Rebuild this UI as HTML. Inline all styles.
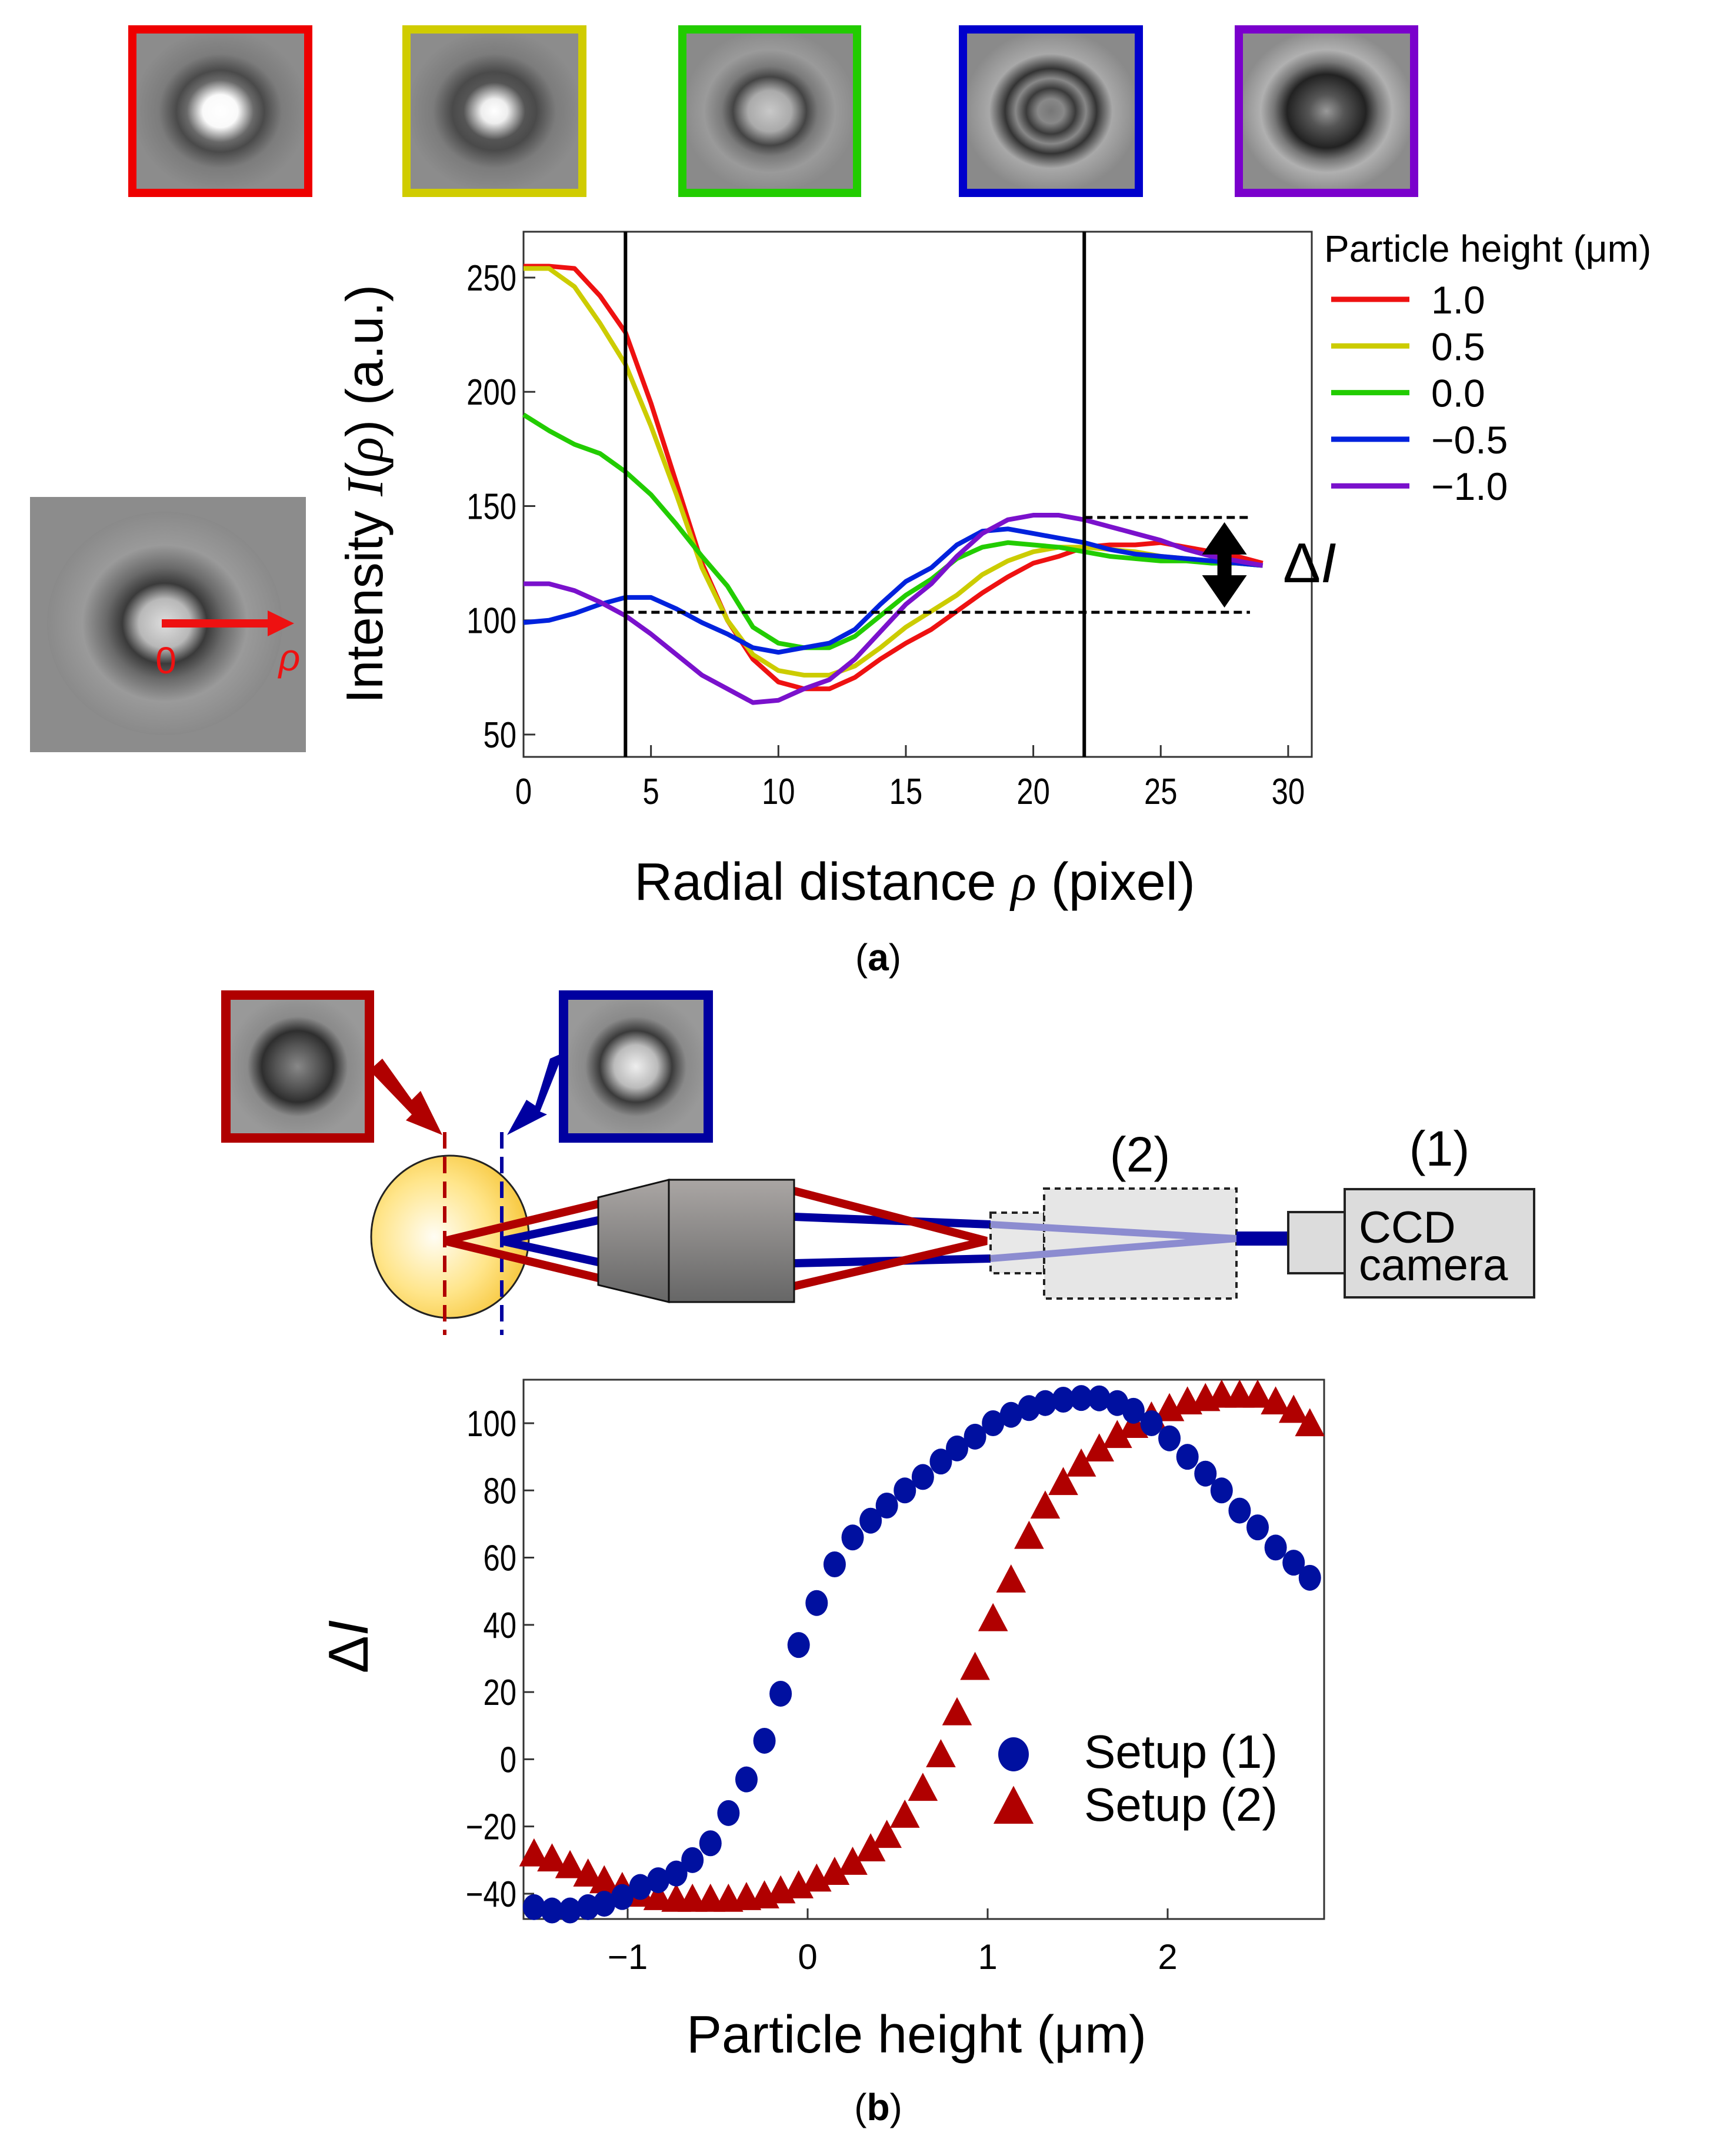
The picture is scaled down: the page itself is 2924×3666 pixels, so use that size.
<!DOCTYPE html>
<html><head><meta charset="utf-8"><style>
html,body{margin:0;padding:0;background:#fff;}
svg{display:block;}
text{font-family:"Liberation Sans",sans-serif;}
</style></head><body>
<svg id="fig" width="2924" height="3666" viewBox="0 0 2924 3666" xmlns="http://www.w3.org/2000/svg">
<defs>
<radialGradient id="gRed"><stop offset="0" stop-color="#fff"/><stop offset="0.2" stop-color="#fafafa"/><stop offset="0.38" stop-color="#6a6a6a"/><stop offset="0.5" stop-color="#4a4a4a"/><stop offset="0.7" stop-color="#7c7c7c"/><stop offset="1" stop-color="#8c8c8c"/></radialGradient>
<radialGradient id="gYel"><stop offset="0" stop-color="#fff"/><stop offset="0.15" stop-color="#eee"/><stop offset="0.35" stop-color="#555"/><stop offset="0.48" stop-color="#4a4a4a"/><stop offset="0.7" stop-color="#7c7c7c"/><stop offset="1" stop-color="#8c8c8c"/></radialGradient>
<radialGradient id="gGrn"><stop offset="0" stop-color="#c8c8c8"/><stop offset="0.25" stop-color="#aaa"/><stop offset="0.42" stop-color="#444"/><stop offset="0.55" stop-color="#7a7a7a"/><stop offset="0.75" stop-color="#9a9a9a"/><stop offset="1" stop-color="#8a8a8a"/></radialGradient>
<radialGradient id="gBlu"><stop offset="0" stop-color="#777"/><stop offset="0.15" stop-color="#888"/><stop offset="0.28" stop-color="#3a3a3a"/><stop offset="0.4" stop-color="#888"/><stop offset="0.52" stop-color="#333"/><stop offset="0.7" stop-color="#a8a8a8"/><stop offset="1" stop-color="#8a8a8a"/></radialGradient>
<radialGradient id="gPur"><stop offset="0" stop-color="#999"/><stop offset="0.2" stop-color="#555"/><stop offset="0.45" stop-color="#222"/><stop offset="0.6" stop-color="#777"/><stop offset="0.75" stop-color="#b0b0b0"/><stop offset="1" stop-color="#8c8c8c"/></radialGradient>
<radialGradient id="gBig"><stop offset="0" stop-color="#ddd"/><stop offset="0.22" stop-color="#b8b8b8"/><stop offset="0.36" stop-color="#3a3a3a"/><stop offset="0.5" stop-color="#6a6a6a"/><stop offset="0.7" stop-color="#9a9a9a"/><stop offset="1" stop-color="#8a8a8a"/></radialGradient>
<radialGradient id="gSmR"><stop offset="0" stop-color="#888"/><stop offset="0.3" stop-color="#555"/><stop offset="0.5" stop-color="#2e2e2e"/><stop offset="0.7" stop-color="#8a8a8a"/><stop offset="1" stop-color="#999"/></radialGradient>
<radialGradient id="gSmB"><stop offset="0" stop-color="#eee"/><stop offset="0.3" stop-color="#bbb"/><stop offset="0.5" stop-color="#3a3a3a"/><stop offset="0.7" stop-color="#8a8a8a"/><stop offset="1" stop-color="#999"/></radialGradient>
<radialGradient id="gBall" cx="0.4" cy="0.5" r="0.6"><stop offset="0" stop-color="#fffdf4"/><stop offset="0.6" stop-color="#ffe58a"/><stop offset="1" stop-color="#f7c840"/></radialGradient>
<linearGradient id="gObj" x1="0" y1="0" x2="0" y2="1"><stop offset="0" stop-color="#aaa6a4"/><stop offset="1" stop-color="#666"/></linearGradient>
</defs>

<!-- thumbnails -->
<g>
<g><rect x="225" y="50" width="299" height="278" fill="url(#gRed)" stroke="#ee0000" stroke-width="14"/></g>
<g><rect x="691" y="50" width="299" height="278" fill="url(#gYel)" stroke="#d0cc00" stroke-width="14"/></g>
<g><rect x="1160" y="50" width="297" height="278" fill="url(#gGrn)" stroke="#22cc00" stroke-width="14"/></g>
<g><rect x="1637" y="50" width="299" height="278" fill="url(#gBlu)" stroke="#0000cc" stroke-width="14"/></g>
<g><rect x="2106" y="50" width="298" height="278" fill="url(#gPur)" stroke="#7a00cc" stroke-width="14"/></g>
</g>

<!-- left particle image -->
<g>
<rect x="51" y="845" width="469" height="434" fill="#8c8c8c"/>
<ellipse cx="280" cy="1060" rx="200" ry="190" fill="url(#gBig)"/>
<line x1="275" y1="1060" x2="470" y2="1060" stroke="#ee1111" stroke-width="14"/>
<polygon points="500,1060 455,1038 455,1082" fill="#ee1111"/>
<text x="282" y="1145" font-family="Liberation Serif,serif" font-size="64" fill="#ee1111" text-anchor="middle">0</text>
<text x="492" y="1140" font-family="Liberation Serif,serif" font-style="italic" font-size="64" fill="#ee1111" text-anchor="middle">ρ</text>
</g>

<g id="chartA"></g>
<g id="chartB"></g>

<text x="1493" y="1650" font-family="Liberation Serif,serif" font-size="64" text-anchor="middle">(<tspan font-weight="bold">a</tspan>)</text>
<text x="1493" y="3605" font-family="Liberation Serif,serif" font-size="64" text-anchor="middle">(<tspan font-weight="bold">b</tspan>)</text>

<!-- setup diagram -->
<g>
<g><rect x="384" y="1692" width="244" height="243" fill="url(#gSmR)" stroke="#b00000" stroke-width="16"/></g>
<g><rect x="958" y="1692" width="246" height="243" fill="url(#gSmB)" stroke="#0000a0" stroke-width="16"/></g>
<polygon points="628,1820 650,1800 700,1870 715,1855 752,1930 690,1905 700,1895" fill="#b00000"/>
<polygon points="958,1790 935,1800 910,1880 895,1870 862,1930 930,1895 918,1890" fill="#0000a0"/>
<ellipse cx="765" cy="2103" rx="134" ry="138" fill="url(#gBall)" stroke="#222" stroke-width="3"/>
<line x1="756" y1="1925" x2="756" y2="2270" stroke="#b00000" stroke-width="6" stroke-dasharray="28,14"/>
<line x1="853" y1="1925" x2="853" y2="2270" stroke="#0000a0" stroke-width="6" stroke-dasharray="28,14"/>
<g fill="none" stroke-width="14">
<polyline points="1017,2047 756,2110 1017,2173" stroke="#b00000"/>
<polyline points="1017,2075 853,2110 1017,2146" stroke="#0000a0"/>
<polyline points="1350,2069 1684,2082" stroke="#0000a0"/>
<polyline points="1350,2148 1684,2140" stroke="#0000a0"/>
<polyline points="1350,2025 1677,2110 1350,2187" stroke="#b00000"/>
</g>
<polygon points="1017,2036 1137,2006 1137,2214 1017,2185" fill="url(#gObj)" stroke="#111" stroke-width="3"/>
<rect x="1137" y="2006" width="213" height="208" fill="url(#gObj)" stroke="#111" stroke-width="3"/>
<rect x="1684" y="2062" width="91" height="103" fill="#e8e8e8" stroke="#222" stroke-width="4" stroke-dasharray="10,8"/>
<rect x="1775" y="2021" width="327" height="187" fill="#e6e6e6" stroke="#222" stroke-width="4" stroke-dasharray="10,8"/>
<g fill="none" stroke="#8c8cd0" stroke-width="12"><polyline points="1684,2082 2102,2106"/><polyline points="1684,2140 2102,2106"/></g>
<line x1="2102" y1="2106" x2="2190" y2="2106" stroke="#0000a0" stroke-width="24"/>
<rect x="2190" y="2061" width="96" height="104" fill="#dcdcdc" stroke="#222" stroke-width="4"/>
<rect x="2286" y="2022" width="322" height="184" fill="#dcdcdc" stroke="#222" stroke-width="4"/>
<text x="2310" y="2113" font-size="76">CCD</text>
<text x="2310" y="2177" font-size="76">camera</text>
<text x="1938" y="1992" font-size="84" text-anchor="middle">(2)</text>
<text x="2447" y="1982" font-size="84" text-anchor="middle">(1)</text>
</g>

<script>
// ---------- Chart A data ----------
const rho = [0,1,2,3,4,5,6,7,8,9,10,11,12,13,14,15,16,17,18,19,20,21,22,23,24,25,26,27,28,29];
const heightsA = ["1.0","0.5","0.0","\u22120.5","\u22121.0"];
const intRed = [255,255,254,242,226,195,160,125,100,83,73,70,70,75,83,90,96,104,112,119,125,128,132,133,133,134,132,130,128,125];
const intYellow = [254,254,246,230,212,185,155,123,100,85,78,76,76,80,88,97,104,111,120,126,130,132,132,131,130,128,127,126,125,124];
const intGreen = [190,183,177,173,165,155,142,128,115,97,90,88,88,93,102,111,118,127,132,134,133,132,130,128,127,126,126,125,125,124];
const intBlue = [99,100,103,107,110,110,105,99,94,88,86,88,90,96,107,117,123,133,139,140,138,136,134,131,129,128,127,126,125,124];
const intPurple = [116,116,113,108,102,94,85,76,70,64,65,70,74,83,95,107,116,128,138,144,146,146,144,141,138,135,131,128,126,124];
const xTicksA = [0,5,10,15,20,25,30];
const yTicksA = [50,100,150,200,250];
const markersA = [4,22];
const dashLevelsA = [145,103.5];

// ---------- Chart B data ----------
const heightB = [-1.52,-1.42,-1.32,-1.22,-1.13,-1.03,-0.93,-0.83,-0.73,-0.64,-0.54,-0.44,-0.34,-0.24,-0.15,-0.05,0.05,0.15,0.25,0.35,0.44,0.54,0.64,0.74,0.83,0.93,1.03,1.13,1.23,1.32,1.42,1.52,1.62,1.72,1.81,1.91,2.01,2.11,2.21,2.30,2.40,2.50,2.60,2.70,2.79];
const dI1 = [-44,-45,-45,-44,-43,-41,-38,-36,-34,-30,-25,-16,-6,5.5,19.5,34,46.5,58,66,71,75.5,80,84,88.6,92.5,96,100,102.5,104.5,106,107,107.5,107.4,106,103.7,100,95.5,90,85,80,74,69,63,58.5,54];
const dI2 = [-28.5,-30,-32,-34.5,-36.5,-38.5,-40.5,-41.5,-42,-42,-42,-42,-41.5,-41,-39.5,-38,-36,-34,-31,-27,-23,-17,-9,1,13.5,27,41.5,53,66,75,82,87.5,92,96,99,101.5,104,106,107,108,108,108,106,103.5,99.5];
const xTicksB = [-1,0,1,2];
const yTicksB = [-40,-20,0,20,40,60,80,100];
const seriesNamesB = ["Setup (1)","Setup (2)"];

const NS = "http://www.w3.org/2000/svg";
function mk(parent, tag, attrs, txt){
  const e = document.createElementNS(NS, tag);
  for (const k in attrs) e.setAttribute(k, attrs[k]);
  if (txt !== undefined) e.textContent = txt;
  parent.appendChild(e);
  return e;
}

// ---------- Chart A ----------
(function(){
  const g = document.getElementById('chartA');
  const L=890,R=2230,T=394,B=1287;
  const xA = v => 890 + v*43.33;
  const yA = v => 472 + (250 - v)*3.885;
  const frame = mk(g,'rect',{x:L,y:T,width:R-L,height:B-T,fill:'none',stroke:'#333','stroke-width':3});
  
  
  xTicksA.forEach(t=>{
    mk(g,'line',{x1:xA(t),x2:xA(t),y1:B,y2:B-20,stroke:'#333','stroke-width':3});
    const tl = mk(g,'text',{x:xA(t),y:B+80,'font-size':62,'text-anchor':'middle',transform:`translate(${xA(t)},0) scale(0.82,1) translate(${-xA(t)},0)`},String(t));
    
    
  });
  yTicksA.forEach(t=>{
    mk(g,'line',{x1:L,x2:L+20,y1:yA(t),y2:yA(t),stroke:'#333','stroke-width':3});
    const tl = mk(g,'text',{x:L-12,y:yA(t)+22,'font-size':62,'text-anchor':'end',transform:`translate(${L-12},0) scale(0.82,1) translate(${-(L-12)},0)`},String(t));
    
    
  });
  const series = [[intRed,'#ee1111'],[intYellow,'#cccc00'],[intGreen,'#22cc00'],[intBlue,'#0022dd'],[intPurple,'#7a11cc']];
  series.forEach((s,i)=>{
    const pts = rho.map((r,j)=>xA(r)+','+yA(s[0][j])).join(' ');
    const pl = mk(g,'polyline',{points:pts,fill:'none',stroke:s[1],'stroke-width':8,'stroke-linejoin':'round'});
    
    
  });
  markersA.forEach(m=>{
    const l = mk(g,'line',{x1:xA(m),x2:xA(m),y1:T,y2:B,stroke:'#000','stroke-width':6});
    
    
  });
  const xEnd = xA(28.5);
  const d1 = mk(g,'line',{x1:xA(22),x2:xEnd,y1:yA(dashLevelsA[0]),y2:yA(dashLevelsA[0]),stroke:'#000','stroke-width':5,'stroke-dasharray':'14,8'});
  
  
  const d2 = mk(g,'line',{x1:xA(4),x2:xEnd,y1:yA(dashLevelsA[1]),y2:yA(dashLevelsA[1]),stroke:'#000','stroke-width':5,'stroke-dasharray':'14,8'});
  
  
  const ax = xA(27.5), ay1 = yA(dashLevelsA[0])+8, ay2 = yA(dashLevelsA[1])-8;
  const arr = mk(g,'path',{d:`M${ax},${ay1} L${ax-38},${ay1+55} L${ax-12},${ay1+55} L${ax-12},${ay2-55} L${ax-38},${ay2-55} L${ax},${ay2} L${ax+38},${ay2-55} L${ax+12},${ay2-55} L${ax+12},${ay1+55} L${ax+38},${ay1+55} Z`,fill:'#000'});
  
  
  const dl = mk(g,'text',{x:2181,y:990,'font-size':96,'font-family':'Liberation Serif,serif'},'\u0394');
  
  
  mk(dl,'tspan',{'font-style':'italic'},'I');
  // axis titles
  const yt = mk(g,'text',{x:0,y:0,'font-size':88,'text-anchor':'middle',transform:'translate(650,840) rotate(-90)'},'Intensity ');
  
  
  mk(yt,'tspan',{'font-family':'Liberation Serif,serif','font-style':'italic'},'I');
  mk(yt,'tspan',{},'(');
  mk(yt,'tspan',{'font-family':'Liberation Serif,serif','font-style':'italic'},'ρ');
  mk(yt,'tspan',{},') (a.u.)');
  const xt = mk(g,'text',{x:1555,y:1530,'font-size':90,'text-anchor':'middle'},'Radial distance ');
  
  
  mk(xt,'tspan',{'font-family':'Liberation Serif,serif','font-style':'italic'},'ρ');
  mk(xt,'tspan',{},' (pixel)');
  // legend
  const lt = mk(g,'text',{x:2251,y:445,'font-size':64},'Particle height (\u03bcm)');
  
  
  series.forEach((s,i)=>{
    const y = 509 + i*79.3;
    const ll = mk(g,'line',{x1:2263,x2:2396,y1:y,y2:y,stroke:s[1],'stroke-width':9});
    
    
    const tx = mk(g,'text',{x:2433,y:y+24,'font-size':66},heightsA[i]);
    
    
  });
})();

// ---------- Chart B ----------
(function(){
  const g = document.getElementById('chartB');
  const L=890,R=2251,T=2346,B=3263;
  const xB = v => 1373 + v*306;
  const yB = v => 2420 + (100 - v)*5.714;
  const frame = mk(g,'rect',{x:L,y:T,width:R-L,height:B-T,fill:'none',stroke:'#333','stroke-width':3});
  
  
  xTicksB.forEach(t=>{
    mk(g,'line',{x1:xB(t),x2:xB(t),y1:B,y2:B-18,stroke:'#333','stroke-width':3});
    const tl = mk(g,'text',{x:xB(t),y:B+85,'font-size':60,'text-anchor':'middle'},t<0?'\u2212'+Math.abs(t):String(t));
    
    
  });
  yTicksB.forEach(t=>{
    mk(g,'line',{x1:L,x2:L+18,y1:yB(t),y2:yB(t),stroke:'#333','stroke-width':3});
    const lab = t<0?'\u2212'+Math.abs(t):String(t);
    const tl = mk(g,'text',{x:L-12,y:yB(t)+22,'font-size':62,'text-anchor':'end',transform:`translate(${L-12},0) scale(0.82,1) translate(${-(L-12)},0)`},lab);
    
    
  });
  const tri = (cx,cy,s)=>`${cx},${cy-s*0.62} ${cx-s*0.55},${cy+s*0.42} ${cx+s*0.55},${cy+s*0.42}`;
  heightB.forEach((h,i)=>{
    const p = mk(g,'polygon',{points:tri(xB(h),yB(dI2[i]),46),fill:'#b00000'});
    
    
  });
  heightB.forEach((h,i)=>{
    const c = mk(g,'ellipse',{cx:xB(h),cy:yB(dI1[i]),rx:19,ry:22,fill:'#0010a0'});
    
    
  });
  // legend
  const lc = mk(g,'ellipse',{cx:1723,cy:2983,rx:26,ry:29,fill:'#0010a0'});
  
  
  const lp = mk(g,'polygon',{points:tri(1723,3075,62),fill:'#b00000'});
  
  
  seriesNamesB.forEach((n,i)=>{
    const t = mk(g,'text',{x:1843,y:3006+i*90,'font-size':80},n);
    
    
  });
  const yt = mk(g,'text',{x:0,y:0,'font-size':96,'font-family':'Liberation Serif,serif','text-anchor':'middle',transform:'translate(625,2800) rotate(-90)'},'\u0394');
  
  
  mk(yt,'tspan',{'font-style':'italic'},'I');
  const xt = mk(g,'text',{x:1558,y:3490,'font-size':90,'text-anchor':'middle'},'Particle height (\u03bcm)');
  
  
})();
</script>
</svg>
</body></html>
